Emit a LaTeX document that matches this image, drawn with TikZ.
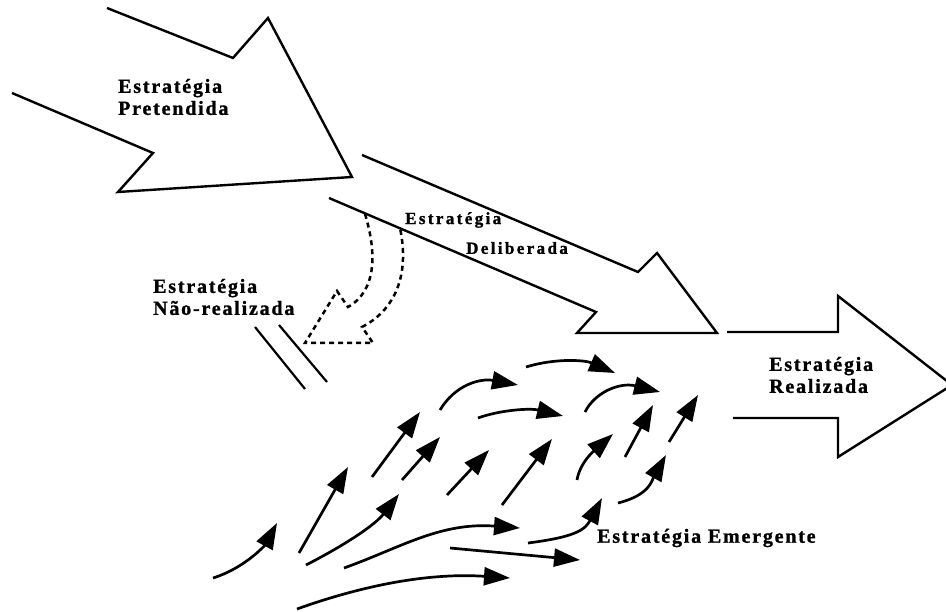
\documentclass[tikz,border=0pt]{standalone}
\usepackage{fontspec}
\setmainfont{Liberation Serif}
\usetikzlibrary{arrows.meta}
\newfontfamily\lblfont[LetterSpace=9,FakeBold=1.2]{Liberation Serif Bold}
\newfontfamily\lblfontsm[LetterSpace=14,FakeBold=1.2]{Liberation Serif Bold}
\begin{document}
\begin{tikzpicture}[x=1pt,y=-1pt,
  bigarrow/.style={draw=black,line width=2.4pt,line join=miter},
  dasharrow/.style={draw=black,line width=2.5pt,dash pattern=on 5pt off 4pt},
  emarrow/.style={draw=black,line width=2.7pt,-{Triangle[length=26pt,width=18pt]}},
  lbl/.style={font=\lblfont\fontsize{20}{22}\selectfont,align=left,inner sep=0pt},
  lblsm/.style={font=\lblfontsm\fontsize{17}{20}\selectfont,inner sep=0pt}]
\useasboundingbox (0,0) rectangle (946,612);
\fill[white] (0,0) rectangle (946,612);
% Estrategia Pretendida
\draw[bigarrow] (107,8) -- (233,58) -- (268,18) -- (352,177) -- (118,192) -- (153,153) -- (12,93);
% Estrategia Deliberada
\draw[bigarrow] (362,155) -- (638,272) -- (657,253) -- (717,333) -- (577,333) -- (596,312) -- (329,198);
% Estrategia Realizada
\begin{scope}
\clip (0,0) rectangle (946,612);
\draw[bigarrow] (727,332) -- (838,332) -- (838,296) -- (952,385) -- (838,457) -- (838,418) -- (733,418);
\end{scope}
% Nao realizada (dashed)
\draw[dasharrow] (365,214) .. controls (376,250) and (378,290) .. (348,307) -- (337,291) -- (305,343) -- (373,343) -- (362,327) .. controls (395,310) and (410,275) .. (400,228);
% parallel lines
\draw[line width=2.2pt] (255,327) -- (305,389);
\draw[line width=2.2pt] (279,325) -- (327,382);
% emergent arrows
\draw[emarrow] (213,578) .. controls (245,568) and (265,545) .. (277,523);
\draw[emarrow] (299,553) -- (348,467);
\draw[emarrow] (306,565) .. controls (345,545) and (375,525) .. (399,494);
\draw[emarrow] (344,568) .. controls (400,548) and (440,522) .. (520,528);
\draw[emarrow] (450,548) -- (580,560);
\draw[emarrow] (297,609) .. controls (350,590) and (420,572) .. (510,578);
\draw[emarrow] (372,477) -- (420,412);
\draw[emarrow] (402,480) -- (440,437);
\draw[emarrow] (447,495) -- (489,450);
\draw[emarrow] (502,505) -- (552,439);
\draw[emarrow] (440,410) .. controls (455,385) and (480,378) .. (518,385);
\draw[emarrow] (478,418) .. controls (500,410) and (530,408) .. (563,416);
\draw[emarrow] (526,367) .. controls (555,358) and (585,360) .. (615,373);
\draw[emarrow] (585,412) .. controls (595,392) and (620,382) .. (660,392);
\draw[emarrow] (528,543) .. controls (575,537) and (585,530) .. (602,498);
\draw[emarrow] (618,503) .. controls (650,495) and (652,480) .. (666,455);
\draw[emarrow] (577,480) .. controls (580,462) and (595,450) .. (613,434);
\draw[emarrow] (625,457) -- (653,405);
\draw[emarrow] (669,442) -- (698,395);
% labels
\node[lbl,anchor=west] (pret) at (118,97) {Estratégia\\Pretendida};
\node[lblsm,anchor=west] (del1) at (405,220) {Estratégia};
\node[lblsm,anchor=west] (del2) at (466,248) {Deliberada};
\node[lbl,anchor=west] (nreal) at (153,297) {Estratégia\\Não-realizada};
\node[lbl,anchor=west] (real) at (769,375) {Estratégia\\Realizada};
\node[lbl,anchor=west] (emerg) at (597,538) {Estratégia Emergente};
\end{tikzpicture}
\end{document}
